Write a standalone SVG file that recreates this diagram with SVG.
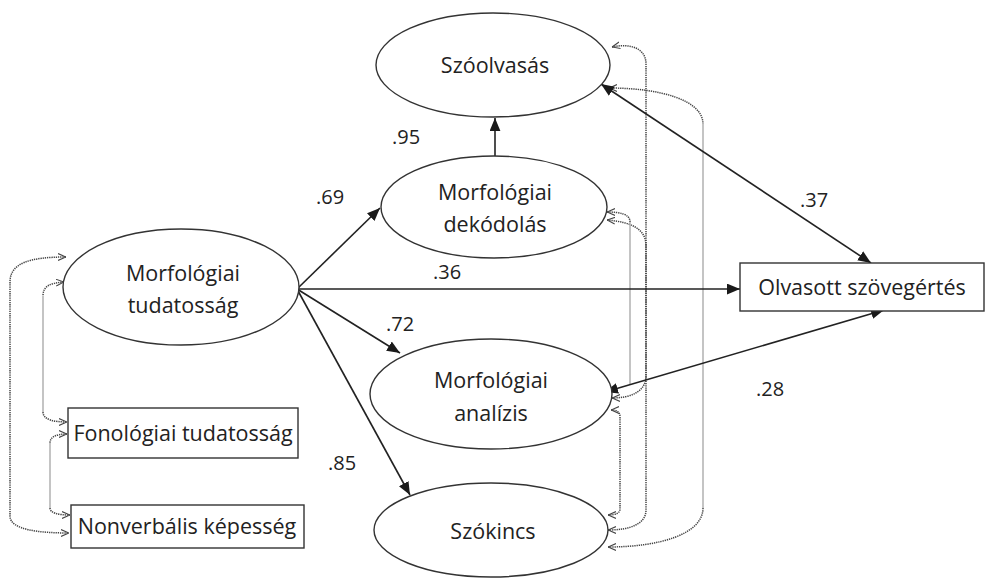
<svg xmlns="http://www.w3.org/2000/svg" width="988" height="580" viewBox="0 0 988 580">
  <style>
    .node { fill: #fff; stroke: #333; stroke-width: 1.4; }
    .lbl { font-family: "Open Sans", "Liberation Sans", sans-serif; font-size: 21.5px; fill: #222; text-anchor: middle; }
    .coef { font-family: "Open Sans", "Liberation Sans", sans-serif; font-size: 20px; fill: #222; text-anchor: middle; }
    .path { fill: none; stroke: #222; stroke-width: 1.6; }
    .dot { fill: none; stroke: #444; stroke-width: 1.5; stroke-dasharray: 1.3 0.9; }
    .lite { fill: none; stroke: #b0b0b0; stroke-width: 1.5; }
  </style>
  <defs>
    <marker id="tri" viewBox="0 0 12 10" refX="12" refY="5" markerWidth="13" markerHeight="11" orient="auto-start-reverse" markerUnits="userSpaceOnUse">
      <path d="M0,0 L12,5 L0,10 z" fill="#1a1a1a"/>
    </marker>
    <marker id="chev" viewBox="0 0 8 8" refX="8" refY="4" markerWidth="8" markerHeight="8" orient="auto-start-reverse" markerUnits="userSpaceOnUse">
      <path d="M0,0.6 L8,4 L0,7.4" fill="none" stroke="#444" stroke-width="1.1"/>
    </marker>
  </defs>

  <rect width="988" height="580" fill="#fff"/>

  <!-- covariance links (dotted, double-headed) -->
  <g id="covariances">
    <!-- left side -->
    <path class="dot" d="M66,257 C30,257 10,263 10,282 L10,516 C10,530 40,533 69,533" marker-start="url(#chev)" marker-end="url(#chev)"/>
    <path class="dot" d="M64,282 C50,283 43,286 43,296" marker-start="url(#chev)"/>
    <path class="lite" d="M43,296 L43,412"/>
    <path class="dot" d="M43,412 C43,420 55,422 67,422" marker-end="url(#chev)"/>
    <path class="dot" d="M67,434 C56,434 50,437 50,443" marker-start="url(#chev)"/>
    <path class="lite" d="M50,443 L50,508"/>
    <path class="dot" d="M50,508 C50,513 58,515 70,515" marker-end="url(#chev)"/>

    <!-- right side -->
    <path class="dot" d="M612,47 C630,43 646,48 646,64 L646,376 C646,392 630,398 612,398" marker-start="url(#chev)" marker-end="url(#chev)"/>
    <path class="dot" d="M607,220 C630,222 646,228 646,246 L646,510 C646,524 630,530 608,530" marker-start="url(#chev)" marker-end="url(#chev)"/>
    <path class="dot" d="M607,212 C620,212 630,214 630,222" marker-start="url(#chev)"/>
    <path class="lite" d="M630,222 L630,384"/>
    <path class="dot" d="M611,410 C616,410 620,411 620,417 L620,509 C620,513 616,515 608,515" marker-start="url(#chev)" marker-end="url(#chev)"/>
    <path class="dot" d="M609,88 C660,88 703,100 703,124" marker-start="url(#chev)"/>
    <path class="lite" d="M703,124 L703,508"/>
    <path class="dot" d="M703,508 C703,534 660,547 608,547" marker-end="url(#chev)"/>
  </g>

  <!-- structural paths -->
  <g id="connectors">
    <line class="path" x1="495" y1="156" x2="495" y2="118" marker-end="url(#tri)"/>
    <line class="path" x1="297" y1="289" x2="380" y2="208" marker-end="url(#tri)"/>
    <line class="path" x1="297" y1="289" x2="740" y2="289" marker-end="url(#tri)"/>
    <line class="path" x1="297" y1="289" x2="400" y2="353" marker-end="url(#tri)"/>
    <line class="path" x1="297" y1="289" x2="410" y2="495" marker-end="url(#tri)"/>
    <line class="path" x1="601" y1="84" x2="871" y2="263" marker-start="url(#tri)" marker-end="url(#tri)"/>
    <line class="path" x1="605" y1="392" x2="884" y2="310" marker-start="url(#tri)" marker-end="url(#tri)"/>
  </g>

  <!-- coefficients -->
  <g id="coefficients">
    <text class="coef" x="406" y="144">.95</text>
    <text class="coef" x="330" y="204">.69</text>
    <text class="coef" x="447" y="279">.36</text>
    <text class="coef" x="400" y="331">.72</text>
    <text class="coef" x="342" y="470">.85</text>
    <text class="coef" x="814" y="207">.37</text>
    <text class="coef" x="770" y="396">.28</text>
  </g>

  <g id="szoolvasas">
    <ellipse class="node" cx="493" cy="65" rx="117" ry="52"/>
    <text class="lbl" x="495" y="73">Szóolvasás</text>
  </g>
  <g id="dekodolas">
    <ellipse class="node" cx="494" cy="207" rx="113" ry="51"/>
    <text class="lbl" x="495" y="200">Morfológiai</text>
    <text class="lbl" x="495" y="232">dekódolás</text>
  </g>
  <g id="analizis">
    <ellipse class="node" cx="491" cy="394" rx="121" ry="55"/>
    <text class="lbl" x="491" y="388">Morfológiai</text>
    <text class="lbl" x="491" y="421">analízis</text>
  </g>
  <g id="szokincs">
    <ellipse class="node" cx="491" cy="530" rx="117" ry="47"/>
    <text class="lbl" x="493" y="539">Szókincs</text>
  </g>
  <g id="tudatossag">
    <ellipse class="node" cx="181" cy="287" rx="118" ry="58"/>
    <text class="lbl" x="183" y="281">Morfológiai</text>
    <text class="lbl" x="183" y="313">tudatosság</text>
  </g>
  <g id="szovegertes">
    <rect class="node" x="740" y="263" width="244" height="48"/>
    <text class="lbl" x="862" y="295">Olvasott szövegértés</text>
  </g>
  <g id="fonologiai">
    <rect class="node" x="68" y="408" width="230" height="50"/>
    <text class="lbl" x="183" y="441">Fonológiai tudatosság</text>
  </g>
  <g id="nonverbalis">
    <rect class="node" x="71" y="505" width="233" height="43"/>
    <text class="lbl" x="187" y="534">Nonverbális képesség</text>
  </g>
</svg>
